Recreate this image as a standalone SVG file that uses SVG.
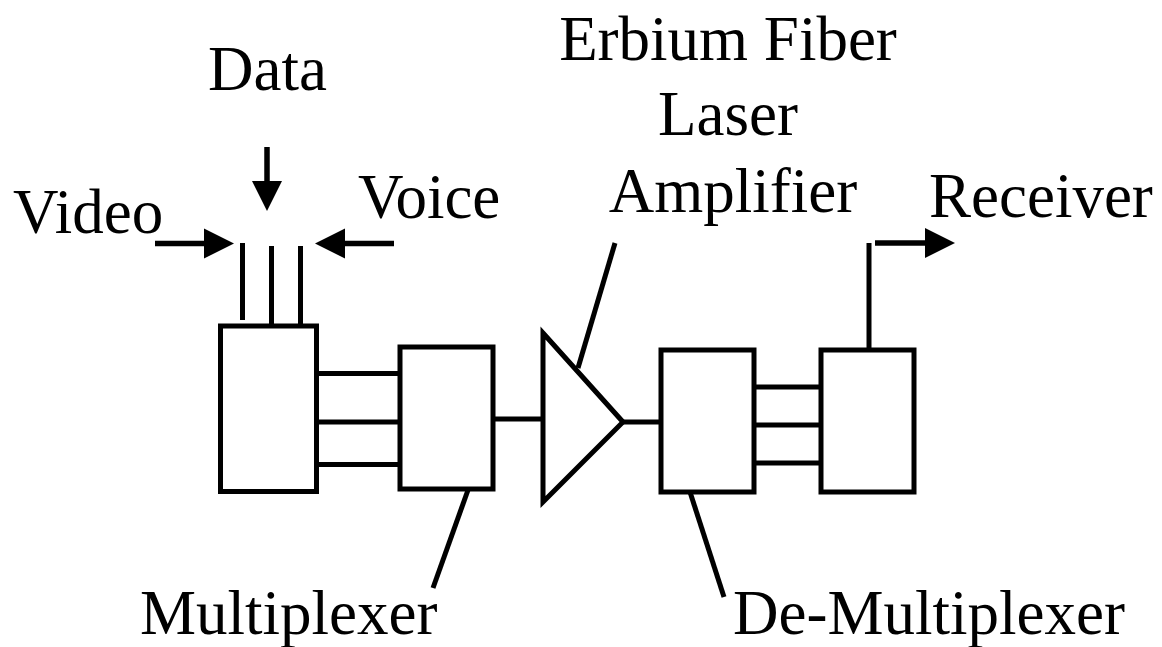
<svg xmlns="http://www.w3.org/2000/svg" width="1162" height="647" viewBox="0 0 1162 647">
<style>
.ln{stroke:#000;stroke-width:5;fill:none}
.ar{stroke:#000;stroke-width:5.5;fill:none}
.box{stroke:#000;stroke-width:5;fill:#fff}
.lb{font-family:"Liberation Serif","Times New Roman",serif;font-size:63px;fill:#000}
</style>
<defs>
<marker id="ah" markerUnits="userSpaceOnUse" markerWidth="31" markerHeight="31" refX="0" refY="15" orient="auto" viewBox="0 0 31 30">
<path d="M0,0 L30,15 L0,30 Z" fill="#000"/>
</marker>
</defs>
<rect width="1162" height="647" fill="#fff"/>
<g id="connectors">
<line class="ar" x1="155" y1="243.5" x2="204" y2="243.5" marker-end="url(#ah)"/>
<line class="ar" x1="394" y1="243.5" x2="345" y2="243.5" marker-end="url(#ah)"/>
<line class="ar" x1="267" y1="147" x2="267" y2="181" marker-end="url(#ah)"/>
<line class="ln" x1="242.5" y1="243" x2="242.5" y2="320"/>
<line class="ln" x1="271.5" y1="246" x2="271.5" y2="326"/>
<line class="ln" x1="300.5" y1="246" x2="300.5" y2="326"/>
<line class="ln" x1="317" y1="373.5" x2="400" y2="373.5"/>
<line class="ln" x1="317" y1="422" x2="400" y2="422"/>
<line class="ln" x1="312" y1="464.5" x2="400" y2="464.5"/>
<line class="ln" x1="493" y1="419" x2="543" y2="419"/>
<line class="ln" x1="623" y1="422" x2="661" y2="422"/>
<line class="ln" x1="754" y1="387" x2="821" y2="387"/>
<line class="ln" x1="754" y1="425" x2="821" y2="425"/>
<line class="ln" x1="754" y1="463" x2="821" y2="463"/>
<line class="ln" x1="869" y1="243" x2="869" y2="350"/>
<line class="ar" x1="875" y1="243" x2="925" y2="243" marker-end="url(#ah)"/>
<line class="ln" x1="615" y1="243" x2="578" y2="368"/>
<line class="ln" x1="468" y1="490" x2="433" y2="588"/>
<line class="ln" x1="690" y1="492" x2="724" y2="597"/>
</g>
<g id="source-box"><rect class="box" x="220.5" y="326" width="96" height="165.5"/></g>
<g id="multiplexer"><rect class="box" x="400" y="347" width="93" height="142"/></g>
<g id="amplifier"><path class="ln" d="M543,333 L623,422 L543,502 Z" stroke-linejoin="miter"/></g>
<g id="demultiplexer"><rect class="box" x="661" y="350" width="93" height="142"/></g>
<g id="receiver-box"><rect class="box" x="821" y="350" width="93" height="142"/></g>
<g id="labels">
<text class="lb" x="208" y="90">Data</text>
<text class="lb" x="13" y="233">Video</text>
<text class="lb" x="358" y="218">Voice</text>
<text class="lb" x="728" y="60" text-anchor="middle">Erbium Fiber</text>
<text class="lb" x="728" y="135" text-anchor="middle">Laser</text>
<text class="lb" x="733" y="212" text-anchor="middle">Amplifier</text>
<text class="lb" x="929" y="217">Receiver</text>
<text class="lb" x="140" y="634">Multiplexer</text>
<text class="lb" x="733" y="634">De-Multiplexer</text>
</g>
</svg>
